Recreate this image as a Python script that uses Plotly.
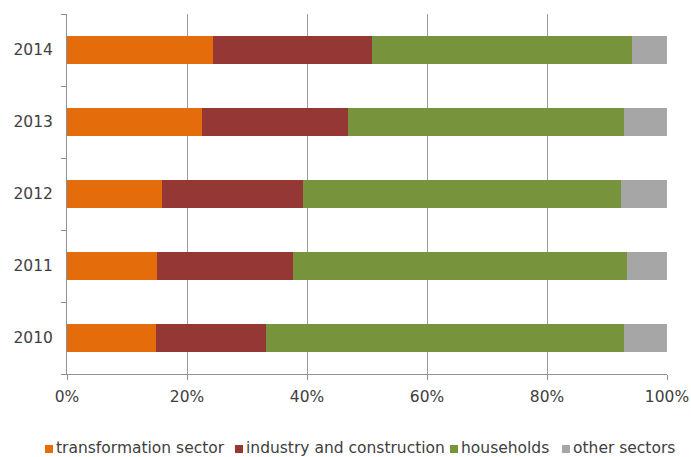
import plotly.graph_objects as go

years = ["2010", "2011", "2012", "2013", "2014"]
transformation_sector = [14.8, 15.0, 15.8, 22.5, 24.4]
industry_and_construction = [18.4, 22.7, 23.5, 24.3, 26.4]
households = [59.6, 55.6, 53.0, 46.0, 43.4]
other_sectors = [7.2, 6.7, 7.7, 7.2, 5.8]

x_ticks = [0, 20, 40, 60, 80, 100]
x_tick_labels = ["0%", "20%", "40%", "60%", "80%", "100%"]

series = [
    ("transformation sector", transformation_sector, "#E46C0A"),
    ("industry and construction", industry_and_construction, "#953735"),
    ("households", households, "#77933C"),
    ("other sectors", other_sectors, "#A6A6A6"),
]

W, H = 691, 457
ML, MR, MT, MB = 67, 24, 14, 83
PW, PH = W - ML - MR, H - MT - MB
font = "DejaVu Sans, Arial, sans-serif"
text_color = "#404040"
axis_color = "#8C8FA0"


def px_to_paper(px, py):
    """Figure pixel position -> plot-area paper coordinates."""
    return (px - ML) / PW, (H - MB - py) / PH


fig = go.Figure()
for name, vals, color in series:
    fig.add_trace(go.Bar(
        y=years, x=vals, name=name, orientation="h",
        marker=dict(color=color, line=dict(width=0)),
    ))

# Compact legend row beneath the axis: small square swatch hugging its label
legend_items = [
    (series[0][0], series[0][2], 45),
    (series[1][0], series[1][2], 235),
    (series[2][0], series[2][2], 450),
    (series[3][0], series[3][2], 562),
]
legend_y = 449
sw = 8
shapes = []
annotations = []
for label, color, px in legend_items:
    x0, y0 = px_to_paper(px, legend_y + sw / 2)
    x1, y1 = px_to_paper(px + sw, legend_y - sw / 2)
    shapes.append(dict(
        type="rect", xref="paper", yref="paper",
        x0=x0, x1=x1, y0=y0, y1=y1,
        fillcolor=color, line=dict(width=0),
    ))
    tx, ty = px_to_paper(px + sw + 2, legend_y - 1)
    annotations.append(dict(
        text=label, xref="paper", yref="paper",
        x=tx, y=ty, xanchor="left", yanchor="middle", showarrow=False,
        borderpad=0, font=dict(family=font, size=15.5, color=text_color),
    ))

fig.update_layout(
    barmode="stack",
    bargap=0.61,
    width=W, height=H,
    margin=dict(l=ML, r=MR, t=MT, b=MB, autoexpand=False),
    paper_bgcolor="white", plot_bgcolor="white",
    font=dict(family=font, size=16, color=text_color),
    showlegend=False,
    shapes=shapes,
    annotations=annotations,
    xaxis=dict(
        range=[0, 100], tickmode="array", tickvals=x_ticks, ticktext=x_tick_labels,
        showgrid=True, gridcolor="#9A9A9A", gridwidth=1,
        zeroline=False, showline=True, linecolor=axis_color, linewidth=1,
        ticks="outside", ticklen=5, tickcolor=axis_color,
        tickfont=dict(family=font, size=15.5, color=text_color),
        ticklabelstandoff=3, fixedrange=True,
    ),
    yaxis=dict(
        type="category", categoryorder="array", categoryarray=years,
        showline=True, linecolor=axis_color, linewidth=1,
        ticks="outside", tickson="boundaries", ticklen=5, tickcolor=axis_color,
        showgrid=False, tickfont=dict(family=font, size=15.5, color=text_color),
        ticklabelstandoff=10,
    ),
)

fig.write_html("out.html")
